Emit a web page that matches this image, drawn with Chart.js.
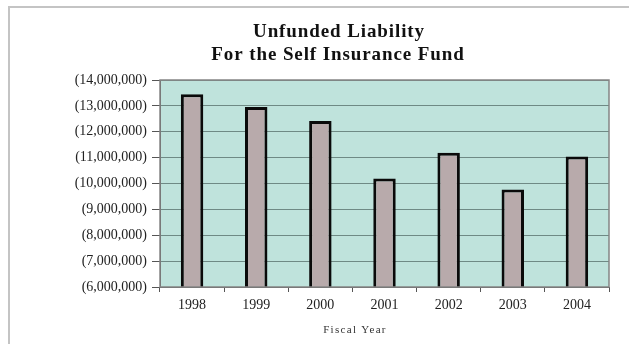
<!DOCTYPE html>
<html>
<head>
<meta charset="utf-8">
<script src="https://cdn.jsdelivr.net/npm/chart.js@4"></script>
<style>
  html, body { margin: 0; padding: 0; background: #fff; }
  #wrap { width: 629px; height: 344px; position: relative; }
</style>
</head>
<body>
<div id="wrap"><canvas id="liabilityChart" width="629" height="344"></canvas></div>
<script>
const fiscalYears = ['1998', '1999', '2000', '2001', '2002', '2003', '2004'];
const unfundedLiability = [13450000, 12960000, 12420000, 10190000, 11190000, 9770000, 11040000];
const titleLines = ['Unfunded Liability', 'For the Self Insurance Fund'];
const xAxisTitle = 'Fiscal Year';

const serif = "'Liberation Serif', 'Times New Roman', serif";

function formatParens(v) {
  return '(' + Math.abs(v).toLocaleString('en-US') + ')';
}

// frame, plot background, plot border, the two-line title and the axis title
const decorations = {
  id: 'decorations',
  beforeDraw(chart) {
    const ctx = chart.ctx;
    const a = chart.chartArea;
    ctx.save();
    ctx.fillStyle = '#bfe3dc';
    ctx.fillRect(a.left, a.top, a.right - a.left, a.bottom - a.top);
    ctx.strokeStyle = '#c4c4c4';
    ctx.lineWidth = 2;
    ctx.beginPath();
    ctx.moveTo(9, 344);
    ctx.lineTo(9, 7);
    ctx.lineTo(629, 7);
    ctx.stroke();
    ctx.restore();
  },
  afterDraw(chart) {
    const ctx = chart.ctx;
    const a = chart.chartArea;
    ctx.save();
    ctx.strokeStyle = '#858585';
    ctx.lineWidth = 1.5;
    ctx.strokeRect(a.left, a.top, a.right - a.left, a.bottom - a.top);
    ctx.fillStyle = '#111';
    ctx.font = 'bold 19px ' + serif;
    ctx.textAlign = 'center';
    ctx.textBaseline = 'middle';
    if ('letterSpacing' in ctx) ctx.letterSpacing = '0.9px';
    ctx.fillText(titleLines[0], 339, 32);
    ctx.fillText(titleLines[1], 338, 55);
    ctx.fillStyle = '#333';
    ctx.font = '11px ' + serif;
    if ('letterSpacing' in ctx) ctx.letterSpacing = '1.3px';
    ctx.fillText(xAxisTitle, 355, 330);
    ctx.restore();
  }
};

new Chart(document.getElementById('liabilityChart').getContext('2d'), {
  type: 'bar',
  data: {
    labels: fiscalYears,
    datasets: [{
      label: 'Unfunded Liability',
      data: unfundedLiability,
      backgroundColor: '#b8aaab',
      borderColor: '#0a0a0a',
      borderWidth: 3,
      borderSkipped: false,
      categoryPercentage: 1,
      barPercentage: 0.35
    }]
  },
  options: {
    responsive: false,
    animation: false,
    layout: { padding: { top: 80, right: 20, bottom: 0, left: 0 } },
    plugins: {
      legend: { display: false },
      tooltip: { enabled: false }
    },
    scales: {
      y: {
        min: 6000000,
        max: 14000000,
        afterFit(s) { s.width = 160; },
        ticks: {
          stepSize: 1000000,
          padding: 5,
          color: '#222',
          font: { family: serif, size: 14 },
          callback: v => formatParens(v)
        },
        grid: { color: '#6f8a85', lineWidth: 1, tickLength: 8, tickColor: '#555' },
        border: { display: true, color: '#555' }
      },
      x: {
        afterFit(s) { s.height = 57; },
        ticks: {
          padding: 5,
          color: '#222',
          font: { family: serif, size: 14 }
        },
        grid: { offset: true, drawOnChartArea: false, tickLength: 5, tickColor: '#555' },
        border: { display: true, color: '#555' }
      }
    }
  },
  plugins: [decorations]
});
</script>
</body>
</html>
